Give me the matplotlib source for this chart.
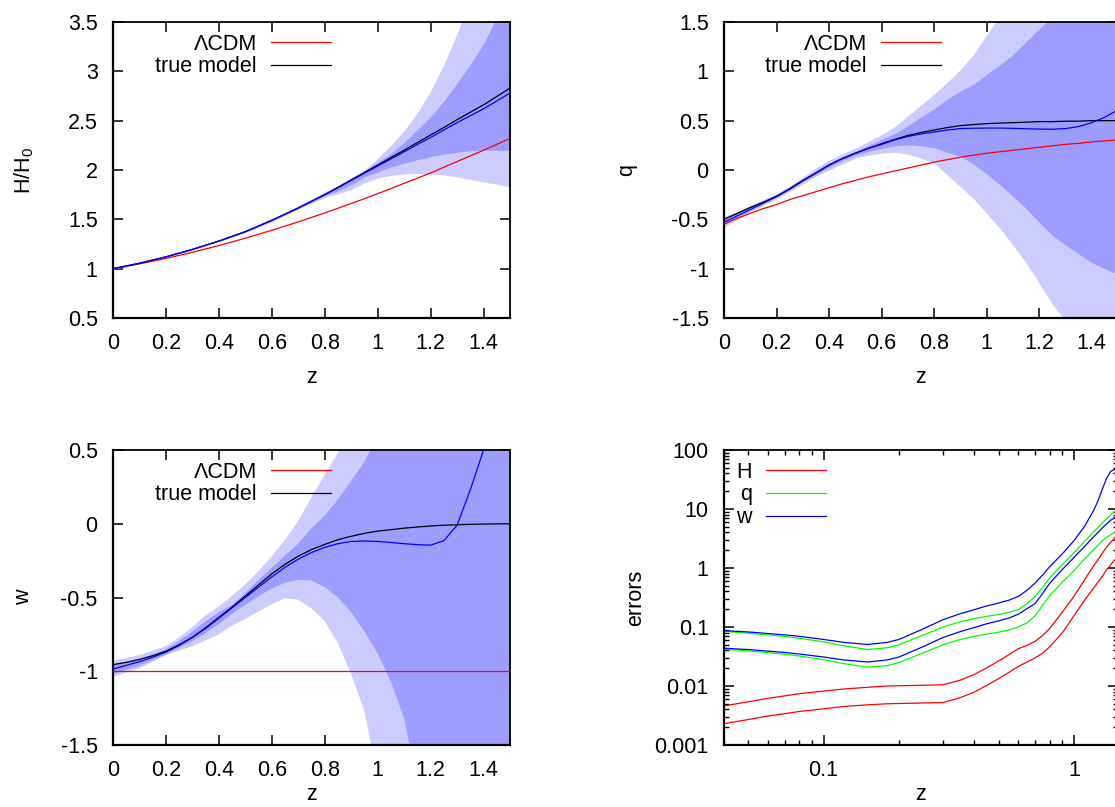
import numpy as np
import matplotlib
matplotlib.use("Agg")
import matplotlib.pyplot as plt
from matplotlib.ticker import LogLocator, NullFormatter, FixedLocator, FixedFormatter

plt.rcParams['font.family'] = ['Liberation Sans', 'DejaVu Sans']
plt.rcParams['mathtext.fontset'] = 'custom'
plt.rcParams['mathtext.rm'] = 'Liberation Sans'
plt.rcParams['mathtext.default'] = 'regular'
plt.rcParams['font.size'] = 15.5

# H/H0 panel
z_H = [0, .1, .2, .3, .4, .5, .6, .7, .8, .85, .9, .95, 1.0, 1.05, 1.1, 1.15, 1.2, 1.25, 1.3, 1.35, 1.4, 1.45, 1.5]
H_true = [1.0, 1.055, 1.12, 1.195, 1.28, 1.375, 1.49, 1.615, 1.75, 1.825, 1.9, 1.975, 2.05, 2.125, 2.2, 2.278, 2.355, 2.43, 2.51, 2.585, 2.66, 2.745, 2.83]
H_rec = [1.0, 1.055, 1.12, 1.195, 1.28, 1.375, 1.49, 1.615, 1.75, 1.82, 1.895, 1.968, 2.04, 2.112, 2.185, 2.258, 2.33, 2.405, 2.48, 2.55, 2.62, 2.7, 2.78]
H_lcdm = [1.0, 1.048, 1.104, 1.166, 1.234, 1.309, 1.389, 1.474, 1.565, 1.612, 1.661, 1.71, 1.76, 1.812, 1.865, 1.917, 1.97, 2.028, 2.086, 2.143, 2.2, 2.26, 2.32]
H_out_up = [1.01, 1.06, 1.125, 1.2, 1.29, 1.39, 1.505, 1.635, 1.78, 1.84, 1.92, 2.0, 2.12, 2.25, 2.4, 2.58, 2.8, 3.07, 3.38, 3.75, 4.2, 4.7, 5.3]
H_out_lo = [.995, 1.05, 1.115, 1.19, 1.275, 1.365, 1.475, 1.605, 1.725, 1.76, 1.8, 1.87, 1.92, 1.945, 1.96, 1.965, 1.96, 1.95, 1.93, 1.905, 1.88, 1.855, 1.83]
H_in_up = [1.005, 1.057, 1.122, 1.197, 1.285, 1.38, 1.495, 1.625, 1.76, 1.83, 1.91, 1.99, 2.08, 2.17, 2.28, 2.41, 2.54, 2.7, 2.88, 3.07, 3.28, 3.55, 3.85]
H_in_lo = [.998, 1.053, 1.118, 1.193, 1.278, 1.37, 1.485, 1.61, 1.74, 1.79, 1.85, 1.93, 1.98, 2.03, 2.07, 2.105, 2.135, 2.16, 2.18, 2.195, 2.2, 2.2, 2.2]

# q panel
z_q = [0, .05, .1, .15, .2, .25, .3, .35, .4, .45, .5, .55, .6, .65, .7, .75, .8, .85, .9, .95, 1, 1.05, 1.1, 1.15, 1.2, 1.25, 1.3, 1.35, 1.4, 1.45, 1.5]
q_true = [-.5, -.44, -.38, -.325, -.266, -.19, -.105, -.03, .05, .115, .17, .22, .266, .31, .35, .38, .405, .43, .45, .46, .47, .475, .48, .485, .49, .49, .495, .495, .5, .5, .5]
q_rec = [-.53, -.465, -.4, -.335, -.27, -.195, -.11, -.03, .05, .115, .17, .22, .26, .305, .34, .365, .385, .405, .42, .423, .425, .425, .422, .418, .415, .413, .42, .44, .48, .535, .61]
q_lcdm = [-.55, -.49, -.44, -.39, -.35, -.3, -.26, -.22, -.18, -.14, -.105, -.07, -.04, -.01, .02, .05, .08, .105, .13, .15, .17, .185, .2, .215, .23, .245, .26, .27, .285, .295, .305]
q_out_up = [-.47, -.42, -.36, -.3, -.24, -.16, -.07, .02, .1, .165, .22, .29, .36, .44, .55, .66, .77, .89, 1.02, 1.17, 1.37, 1.56, 1.75, 1.95, 2.15, 2.35, 2.55, 2.8, 3, 3.3, 3.6]
q_out_lo = [-.58, -.5, -.42, -.355, -.29, -.215, -.14, -.06, 0, .06, .12, .15, .17, .18, .16, .12, .07, -.05, -.17, -.29, -.44, -.59, -.76, -.94, -1.15, -1.36, -1.53, -1.75, -2, -2.25, -2.5]
q_in_up = [-.49, -.43, -.37, -.315, -.255, -.175, -.09, -.01, .07, .135, .19, .25, .31, .37, .45, .54, .62, .72, .8, .87, .97, 1.065, 1.17, 1.3, 1.43, 1.56, 1.7, 1.85, 2, 2.15, 2.3]
q_in_lo = [-.55, -.48, -.41, -.345, -.275, -.2, -.12, -.045, .03, .095, .15, .19, .22, .245, .255, .245, .225, .18, .14, .06, -.04, -.15, -.265, -.39, -.53, -.66, -.76, -.85, -.94, -1.0, -1.06]

# w panel
z_w = [0, .05, .1, .15, .2, .25, .3, .35, .4, .45, .5, .55, .6, .65, .7, .75, .8, .85, .9, .95, 1, 1.05, 1.1, 1.15, 1.2, 1.25, 1.3, 1.35, 1.4, 1.45, 1.5]
w_true = [-.955, -.94, -.92, -.895, -.865, -.82, -.77, -.705, -.635, -.565, -.49, -.415, -.34, -.275, -.22, -.175, -.14, -.108, -.085, -.065, -.05, -.04, -.03, -.022, -.015, -.01, -.007, -.004, -.002, -.001, 0]
w_rec = [-.985, -.96, -.935, -.905, -.87, -.825, -.77, -.71, -.64, -.57, -.5, -.43, -.36, -.295, -.24, -.195, -.16, -.135, -.12, -.117, -.12, -.127, -.135, -.142, -.145, -.115, -.01, .23, .5, .95, 1.4]
w_lcdm = [-1] * 31
w_out_up = [-.93, -.91, -.89, -.86, -.83, -.77, -.7, -.62, -.56, -.49, -.41, -.32, -.22, -.11, .02, .18, .33, .48, .68, .9, 1.15, 1.4, 1.6, 1.8, 2, 2.2, 2.4, 2.6, 2.8, 3, 3.2]
w_out_lo = [-1.04, -1.01, -.98, -.935, -.89, -.86, -.83, -.79, -.75, -.69, -.645, -.595, -.545, -.505, -.515, -.575, -.66, -.81, -1.02, -1.27, -1.72, -2.2, -2.6, -3, -3.3, -3.6, -3.9, -4.2, -4.5, -4.8, -5]
w_in_up = [-.95, -.935, -.915, -.885, -.85, -.795, -.73, -.66, -.6, -.55, -.47, -.38, -.3, -.215, -.135, -.03, .055, .165, .29, .42, .6, .75, .9, 1.1, 1.3, 1.5, 1.7, 1.9, 2.1, 2.4, 2.8]
w_in_lo = [-1.02, -.99, -.96, -.925, -.885, -.84, -.795, -.74, -.68, -.61, -.55, -.49, -.44, -.4, -.38, -.385, -.43, -.5, -.6, -.73, -.88, -1.07, -1.32, -1.75, -2.1, -2.5, -2.8, -3.1, -3.4, -3.7, -4]

# errors panel
z_err = [.04, .05, .06, .07, .08, .1, .12, .15, .18, .2, .25, .3, .35, .4, .45, .5, .55, .6, .65, .7, .75, .8, .9, 1, 1.1, 1.2, 1.25, 1.3, 1.35, 1.4, 1.45, 1.5]
err_H_up = [.0046, .0054, .0062, .0068, .0074, .0082, .0089, .0095, .01, .0101, .0103, .0105, .0125, .0157, .0205, .0265, .034, .043, .049, .057, .072, .094, .18, .33, .62, 1.1, 1.4, 1.8, 2.25, 2.7, 3.2, 3.6]
err_H_lo = [.0023, .0027, .0031, .0034, .0037, .0041, .0045, .0048, .005, .00505, .00515, .00525, .0063, .0079, .0103, .0133, .017, .0215, .0255, .03, .036, .046, .08, .155, .28, .46, .58, .73, .93, 1.13, 1.35, 1.55]
err_q_up = [.0845, .0785, .0735, .069, .0645, .056, .048, .0415, .0445, .05, .073, .1, .122, .139, .152, .163, .178, .197, .25, .33, .47, .68, 1.15, 1.8, 2.8, 4.1, 4.9, 5.8, 6.8, 7.9, 9, 10.2]
err_q_lo = [.042, .0393, .0368, .0345, .0322, .028, .024, .0208, .0222, .025, .0365, .05, .061, .0695, .076, .0815, .089, .1, .118, .155, .235, .34, .58, .9, 1.4, 2.05, 2.45, 2.9, 3.3, 3.65, 4, 4.3]
err_w_up = [.0867, .0825, .0775, .0735, .0695, .0615, .055, .0505, .055, .0615, .093, .133, .167, .197, .228, .255, .285, .33, .42, .557, .76, 1.05, 1.75, 2.9, 5, 9.5, 14, 22, 33, 43, 47, 48]
err_w_lo = [.0437, .0415, .039, .037, .0348, .031, .0277, .0255, .0277, .031, .0465, .0665, .083, .098, .114, .127, .142, .165, .205, .25, .37, .55, .95, 1.5, 2.3, 3.4, 4.05, 4.8, 5.6, 6.4, 7.1, 7.8]

z_ticks = [0, .2, .4, .6, .8, 1, 1.2, 1.4]
z_labels = ['0', '0.2', '0.4', '0.6', '0.8', '1', '1.2', '1.4']
H_ticks = [.5, 1, 1.5, 2, 2.5, 3, 3.5]
H_labels = ['0.5', '1', '1.5', '2', '2.5', '3', '3.5']
q_ticks = [-1.5, -1, -.5, 0, .5, 1, 1.5]
q_labels = ['-1.5', '-1', '-0.5', '0', '0.5', '1', '1.5']
w_ticks = [-1.5, -1, -.5, 0, .5]
w_labels = ['-1.5', '-1', '-0.5', '0', '0.5']
err_ticks = [.001, .01, .1, 1, 10, 100]
err_labels = ['0.001', '0.01', '0.1', '1', '10', '100']
zlog_ticks = [.1, 1]
zlog_labels = ['0.1', '1']

LIGHT = '#ccccff'
DARK = '#9d9dff'
W, H = 1115, 807


def make_axes(fig, left, top, right, bottom):
	"""axes from pixel corners, top-left origin"""
	ax = fig.add_axes([left / W, 1 - bottom / H, (right - left) / W, (bottom - top) / H])
	ax.set_axisbelow(True)
	for side in ['left', 'bottom']:
		ax.spines[side].set_linewidth(1.6)
	for side in ['right', 'top']:
		ax.spines[side].set_linewidth(1.3)
	ax.tick_params(which='major', direction='in', top=True, right=True, length=7, width=1.1, pad=11)
	ax.tick_params(which='minor', direction='in', top=True, right=True, length=3.7, width=1.0)
	return ax


def finish(ax, ylabel, xl_y, yl_x):
	ax.set_xlabel('z')
	ax.set_ylabel(ylabel)
	ax.xaxis.set_label_coords(.5, xl_y)
	ax.yaxis.set_label_coords(yl_x, .5)


def add_key(ax, right):
	ax.legend(loc='upper right', bbox_to_anchor=(right, .961), frameon=False, markerfirst=False,
		handlelength=2.79, handletextpad=.65, labelspacing=.09, borderpad=0, borderaxespad=0)


def model_panel(ax, z, rec, true, lcdm, out_up, out_lo, in_up, in_lo, ticks, labels, ylim, key_right):
	ax.fill_between(z, out_lo, out_up, color=LIGHT, lw=0, zorder=1)
	ax.fill_between(z, in_lo, in_up, color=DARK, lw=0, zorder=1.1)
	ax.plot(z, lcdm, color='#ff0000', lw=.9, label='\u039bCDM', zorder=3)
	ax.plot(z, true, color='black', lw=.9, label='true model', zorder=3)
	ax.plot(z, rec, color='#0000ff', lw=.9, zorder=3.5)
	ax.set_xlim(0, 1.5)
	ax.set_ylim(*ylim)
	ax.set_xticks(z_ticks, z_labels)
	ax.set_yticks(ticks, labels)
	add_key(ax, key_right)


fig = plt.figure(figsize=(W / 100, H / 100), dpi=100)

ax1 = make_axes(fig, 113, 22, 510, 318)
model_panel(ax1, z_H, H_rec, H_true, H_lcdm, H_out_up, H_out_lo, H_in_up, H_in_lo, H_ticks, H_labels, (.5, 3.5), .549)
finish(ax1, 'H/H$_0$', -.165, -.195)

ax2 = make_axes(fig, 724, 22, 1118, 318)
model_panel(ax2, z_q, q_rec, q_true, q_lcdm, q_out_up, q_out_lo, q_in_up, q_in_lo, q_ticks, q_labels, (-1.5, 1.5), .551)
finish(ax2, 'q', -.165, -.221)

ax3 = make_axes(fig, 113, 450, 510, 745)
model_panel(ax3, z_w, w_rec, w_true, w_lcdm, w_out_up, w_out_lo, w_in_up, w_in_lo, w_ticks, w_labels, (-1.5, .5), .549)
finish(ax3, 'w', -.133, -.199)

ax4 = make_axes(fig, 724, 450, 1118, 745)
ax4.plot(z_err, err_H_up, color='#ff0000', lw=.9, label='H')
ax4.plot(z_err, err_H_lo, color='#ff0000', lw=.9)
ax4.plot(z_err, err_q_up, color='#00ff00', lw=.9, label='q')
ax4.plot(z_err, err_q_lo, color='#00ff00', lw=.9)
ax4.plot(z_err, err_w_up, color='#0000ff', lw=.9, label='w')
ax4.plot(z_err, err_w_lo, color='#0000ff', lw=.9)
ax4.set_xscale('log')
ax4.set_yscale('log')
ax4.set_xlim(.04, 1.5)
ax4.set_ylim(.001, 100)
ax4.xaxis.set_major_locator(FixedLocator(zlog_ticks))
ax4.xaxis.set_major_formatter(FixedFormatter(zlog_labels))
ax4.xaxis.set_minor_locator(LogLocator(base=10, subs=np.arange(2, 10), numticks=20))
ax4.xaxis.set_minor_formatter(NullFormatter())
ax4.yaxis.set_major_locator(FixedLocator(err_ticks))
ax4.yaxis.set_major_formatter(FixedFormatter(err_labels))
ax4.yaxis.set_minor_locator(LogLocator(base=10, subs=np.arange(2, 10), numticks=20))
ax4.yaxis.set_minor_formatter(NullFormatter())
add_key(ax4, .259)
finish(ax4, 'errors', -.133, -.197)

fig.savefig('out.png', dpi=100)
